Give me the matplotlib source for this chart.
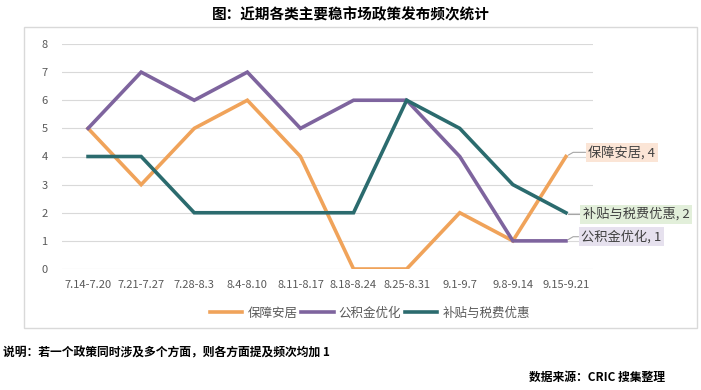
import matplotlib.pyplot as plt
from matplotlib.patches import Rectangle

plt.rcParams['font.family'] = ['Noto Sans CJK SC', 'DejaVu Sans']

weeks = ['7.14-7.20', '7.21-7.27', '7.28-8.3', '8.4-8.10', '8.11-8.17',
         '8.18-8.24', '8.25-8.31', '9.1-9.7', '9.8-9.14', '9.15-9.21']
housing = [5, 3, 5, 6, 4, 0, 0, 2, 1, 4]
fund = [5, 7, 6, 7, 5, 6, 6, 4, 1, 1]
subsidy = [4, 4, 2, 2, 2, 2, 6, 5, 3, 2]

names = ['保障安居', '公积金优化', '补贴与税费优惠']
colors = ['#F0A35A', '#7E649E', '#2B6B6E']
label_bg = ['#FBE5D6', '#E6E1EE', '#E2EFDA']

fig = plt.figure(figsize=(7.01, 3.90), dpi=100)

# outer chart frame
fig.patches.append(Rectangle((24 / 701, 1 - 328 / 390), 673 / 701, 301 / 390,
                             transform=fig.transFigure, fill=False,
                             edgecolor='#D9D9D9', lw=1))

ax = fig.add_axes([61.5 / 701, 1 - 269 / 390, 531 / 701, 225 / 390])
x = range(len(weeks))
series = [housing, fund, subsidy]
for vals, c, n in zip(series, colors, names):
    ax.plot(x, vals, color=c, lw=2.6, label=n, solid_joinstyle='miter')

ax.set_xlim(-0.5, len(weeks) - 0.5)
ax.set_ylim(0, 8)
ax.set_yticks(range(9))
ax.set_xticks(list(x))
ax.set_xticklabels(weeks)
ax.tick_params(length=0, labelsize=8, colors='#595959', pad=8)
ax.tick_params(axis='y', pad=10)
ax.grid(axis='y', color='#D9D9D9', lw=0.8)
ax.set_axisbelow(True)
for s in ax.spines.values():
    s.set_visible(False)

# end-point data labels with leader lines
last = len(weeks) - 1
offsets = {0: (16, 3), 1: (11, 3), 2: (12, -1)}
for i, (vals, n, bg) in enumerate(zip(series, names, label_bg)):
    dx, dy = offsets[i]
    ax.annotate(f'{n}, {vals[last]}', xy=(last, vals[last]),
                xytext=(dx, dy), textcoords='offset points',
                fontsize=9.5, color='#404040', va='center', ha='left',
                bbox=dict(boxstyle='square,pad=0.2', fc=bg, ec='none'),
                arrowprops=dict(arrowstyle='-', color='#A6A6A6', lw=0.8,
                                shrinkA=0, shrinkB=2,
                                connectionstyle='angle,angleA=0,angleB=30,rad=0'))

fig.legend(loc='center', bbox_to_anchor=(370 / 701, 1 - 313 / 390), ncol=3,
           frameon=False, fontsize=9, handlelength=2.6, handletextpad=0.4,
           columnspacing=0.3, labelcolor='#595959')

fig.text(0.5, 1 - 14 / 390, '图：近期各类主要稳市场政策发布频次统计',
         ha='center', va='center', fontsize=10.5, fontweight='bold')
fig.text(3 / 701, 1 - 353 / 390, '说明：若一个政策同时涉及多个方面，则各方面提及频次均加 1',
         ha='left', va='center', fontsize=8.5, fontweight='bold')
fig.text(665 / 701, 1 - 377 / 390, '数据来源：CRIC 搜集整理',
         ha='right', va='center', fontsize=8.5, fontweight='bold')

fig.savefig('out.png', dpi=100)
